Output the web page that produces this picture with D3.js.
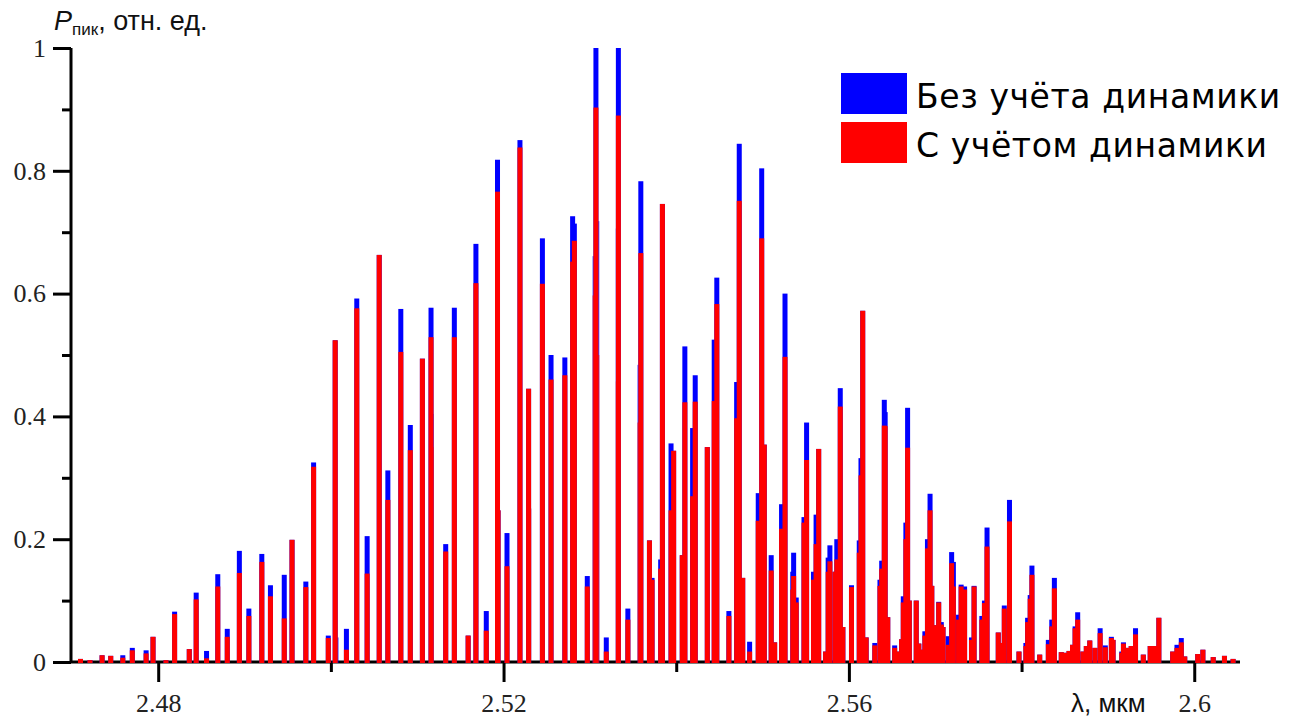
<!DOCTYPE html>
<html>
<head>
<meta charset="utf-8">
<script src="https://cdn.jsdelivr.net/npm/d3@7"></script>
<style>
  html, body { margin: 0; padding: 0; background: #fff; }
  svg { display: block; }
</style>
</head>
<body>
<svg id="chart" width="1296" height="720"></svg>
<script>
// Peak wavelengths, µm
const peakLambda = [
  2.4710, 2.4721, 2.4735, 2.4745, 2.4759, 2.4770, 2.4786, 2.4794, 2.4809, 2.4819,
  2.4836, 2.4844, 2.4856, 2.4869, 2.4880, 2.4894, 2.4905, 2.4920, 2.4930, 2.4946,
  2.4955, 2.4971, 2.4980, 2.4997, 2.5005, 2.5018, 2.5030, 2.5042, 2.5056, 2.5066,
  2.5081, 2.5092, 2.5106, 2.5116, 2.5133, 2.5143, 2.5159, 2.5168, 2.5180, 2.5193,
  2.5204, 2.5219, 2.5229, 2.5245, 2.5255, 2.5271, 2.5280, 2.5282, 2.5297, 2.5307,
  2.5319, 2.5333, 2.5344, 2.5359, 2.5369, 2.5372, 2.5382, 2.5384, 2.5394, 2.5397,
  2.5407, 2.5410, 2.5419, 2.5422, 2.5436, 2.5444, 2.5447, 2.5461, 2.5470, 2.5473,
  2.5477, 2.5485, 2.5495, 2.5499, 2.5502, 2.5510, 2.5514, 2.5522, 2.5526, 2.5535,
  2.5536, 2.5539, 2.5548, 2.5551, 2.5559, 2.5562, 2.5565, 2.5573, 2.5576, 2.5578,
  2.5584, 2.5586, 2.5590, 2.5593, 2.5603, 2.5612, 2.5614, 2.5616, 2.5620, 2.5630,
  2.5636, 2.5638, 2.5641, 2.5642, 2.5645, 2.5653, 2.5656, 2.5661, 2.5663, 2.5666,
  2.5668, 2.5670, 2.5678, 2.5681, 2.5684, 2.5688, 2.5691, 2.5694, 2.5696, 2.5701,
  2.5704, 2.5707, 2.5709, 2.5715, 2.5719, 2.5721, 2.5727, 2.5730, 2.5734, 2.5742,
  2.5745, 2.5754, 2.5757, 2.5760, 2.5773, 2.5777, 2.5780, 2.5786, 2.5797, 2.5805,
  2.5807, 2.5810, 2.5812, 2.5821, 2.5831, 2.5835, 2.5838, 2.5846, 2.5850, 2.5855,
  2.5859, 2.5862, 2.5865, 2.5871, 2.5875, 2.5879, 2.5885, 2.5891, 2.5897, 2.5904,
  2.5906, 2.5916, 2.5918, 2.5923, 2.5927, 2.5932, 2.5941, 2.5949, 2.5954, 2.5959,
  2.5975, 2.5980, 2.5985, 2.5989, 2.6004, 2.6010, 2.6022, 2.6035, 2.6045
];

// Peak power without gain dynamics, rel. units
const peakNoDynamics = [
  0.005, 0.003, 0.011, 0.010, 0.011, 0.023, 0.019, 0.041, 0.003, 0.082,
  0.021, 0.113, 0.018, 0.143, 0.054, 0.181, 0.087, 0.176, 0.125, 0.142,
  0.199, 0.131, 0.325, 0.043, 0.524, 0.054, 0.592, 0.205, 0.663, 0.312,
  0.575, 0.386, 0.494, 0.577, 0.192, 0.577, 0.043, 0.681, 0.083, 0.818,
  0.210, 0.850, 0.445, 0.690, 0.500, 0.496, 0.726, 0.714, 0.140, 1.000,
  0.040, 1.000, 0.087, 0.783, 0.198, 0.137, 0.167, 0.746, 0.356, 0.344,
  0.174, 0.514, 0.381, 0.467, 0.350, 0.525, 0.626, 0.083, 0.456, 0.844,
  0.137, 0.033, 0.275, 0.804, 0.354, 0.174, 0.032, 0.257, 0.600, 0.147,
  0.178, 0.105, 0.236, 0.390, 0.147, 0.240, 0.347, 0.017, 0.170, 0.190,
  0.147, 0.200, 0.446, 0.057, 0.125, 0.198, 0.332, 0.572, 0.040, 0.031,
  0.134, 0.165, 0.427, 0.407, 0.073, 0.027, 0.017, 0.037, 0.107, 0.227,
  0.414, 0.100, 0.100, 0.030, 0.020, 0.050, 0.200, 0.274, 0.124, 0.060,
  0.098, 0.065, 0.057, 0.042, 0.179, 0.163, 0.077, 0.126, 0.123, 0.040,
  0.124, 0.075, 0.100, 0.219, 0.048, 0.031, 0.092, 0.264, 0.017, 0.031,
  0.072, 0.109, 0.157, 0.012, 0.036, 0.069, 0.137, 0.016, 0.015, 0.018,
  0.028, 0.058, 0.081, 0.017, 0.026, 0.035, 0.023, 0.055, 0.027, 0.041,
  0.036, 0.017, 0.032, 0.023, 0.026, 0.055, 0.012, 0.026, 0.026, 0.072,
  0.017, 0.028, 0.039, 0.009, 0.013, 0.020, 0.008, 0.010, 0.005
];

// Peak power with gain dynamics, rel. units
const peakWithDynamics = [
  0.005, 0.003, 0.011, 0.010, 0.007, 0.019, 0.014, 0.041, 0.003, 0.078,
  0.021, 0.102, 0.006, 0.123, 0.041, 0.145, 0.075, 0.163, 0.107, 0.071,
  0.199, 0.122, 0.318, 0.039, 0.524, 0.020, 0.576, 0.144, 0.663, 0.264,
  0.505, 0.345, 0.494, 0.529, 0.180, 0.529, 0.043, 0.617, 0.051, 0.766,
  0.156, 0.838, 0.445, 0.616, 0.460, 0.467, 0.652, 0.686, 0.123, 0.903,
  0.017, 0.890, 0.069, 0.666, 0.198, 0.134, 0.152, 0.746, 0.247, 0.344,
  0.174, 0.423, 0.270, 0.424, 0.350, 0.425, 0.583, 0.075, 0.397, 0.751,
  0.137, 0.017, 0.230, 0.690, 0.354, 0.149, 0.032, 0.217, 0.497, 0.118,
  0.140, 0.097, 0.227, 0.329, 0.134, 0.192, 0.347, 0.017, 0.147, 0.164,
  0.147, 0.167, 0.416, 0.057, 0.122, 0.178, 0.304, 0.572, 0.040, 0.027,
  0.124, 0.152, 0.385, 0.384, 0.073, 0.023, 0.017, 0.037, 0.097, 0.200,
  0.349, 0.100, 0.100, 0.030, 0.020, 0.043, 0.185, 0.247, 0.124, 0.060,
  0.097, 0.061, 0.057, 0.028, 0.161, 0.123, 0.069, 0.123, 0.118, 0.036,
  0.123, 0.069, 0.096, 0.188, 0.048, 0.031, 0.087, 0.229, 0.017, 0.026,
  0.065, 0.103, 0.142, 0.012, 0.029, 0.058, 0.120, 0.016, 0.015, 0.018,
  0.028, 0.055, 0.069, 0.017, 0.026, 0.035, 0.023, 0.047, 0.024, 0.039,
  0.036, 0.015, 0.030, 0.023, 0.026, 0.045, 0.012, 0.026, 0.026, 0.072,
  0.017, 0.023, 0.032, 0.009, 0.013, 0.020, 0.008, 0.010, 0.005
];

// Weak satellite lines next to the main peaks
const satLambda        = [2.5008, 2.5118, 2.5196, 2.5231, 2.5304, 2.5310, 2.5331, 2.5356];
const satNoDynamics    = [0.040, 0.404, 0.247, 0.250, 0.661, 0.718, 0.706, 0.484];
const satWithDynamics  = [0.000, 0.350, 0.247, 0.250, 0.597, 0.500, 0.457, 0.390];

const xMajorTicks = [2.48, 2.52, 2.56, 2.60];
const xMinorTicks = [2.50, 2.54, 2.58];
const yMajorTicks = [0, 0.2, 0.4, 0.6, 0.8, 1];
const yMinorTicks = [0.1, 0.3, 0.5, 0.7, 0.9];

const seriesNames  = ["Без учёта динамики", "С учётом динамики"];
const seriesColors = ["#0000ff", "#ff0000"];

const svg = d3.select("#chart");

const x = d3.scaleLinear().domain([2.4699, 2.6053]).range([71, 1240]);
const y = d3.scaleLinear().domain([0, 1]).range([662, 48]);

const fmt = d => String(+d.toFixed(2));
const tickFont = "'Liberation Serif', 'Times New Roman', serif";

// Axes
const gx = svg.append("g").attr("transform", `translate(0,${y(0)})`);
gx.append("g")
  .call(d3.axisBottom(x).tickValues(xMajorTicks).tickSize(20).tickPadding(12).tickFormat(fmt))
  .call(g => g.select(".domain").attr("stroke-width", 3).attr("d", `M${x.range()[0]},0H${x.range()[1]}`));
gx.append("g")
  .call(d3.axisBottom(x).tickValues(xMinorTicks).tickSize(10).tickFormat(""))
  .call(g => g.select(".domain").remove());

const gy = svg.append("g").attr("transform", `translate(${x.range()[0]},0)`);
gy.append("g")
  .call(d3.axisLeft(y).tickValues(yMajorTicks).tickSize(18).tickPadding(7).tickFormat(fmt))
  .call(g => g.select(".domain").attr("stroke-width", 3).attr("d", `M0,${y(0)}V${y(1)}`));
gy.append("g")
  .call(d3.axisLeft(y).tickValues(yMinorTicks).tickSize(9).tickFormat(""))
  .call(g => g.select(".domain").remove());

svg.selectAll(".tick line").attr("stroke", "#000").attr("stroke-width", 3);
svg.selectAll(".tick text")
  .attr("fill", "#222")
  .style("font-family", tickFont)
  .style("font-size", "26px");

// Spectral lines: wide bars for the main peaks, thin ones for the satellites
const halfWidth = 0.00029;
const satHalfWidth = 0.0001;

function drawLines(layer, lambdas, values, color, half, opacity) {
  layer.selectAll(null)
    .data(lambdas.map((l, i) => ({ l, v: values[i] })).filter(d => d.v > 0))
    .join("rect")
    .attr("x", d => x(d.l - half))
    .attr("width", d => x(d.l + half) - x(d.l - half))
    .attr("y", d => y(d.v))
    .attr("height", d => y(0) + 1 - y(d.v))
    .attr("fill", color)
    .attr("fill-opacity", opacity);
}

const marks = svg.append("g");
drawLines(marks, peakLambda, peakNoDynamics, seriesColors[0], halfWidth, 1);
drawLines(marks, satLambda, satNoDynamics, seriesColors[0], satHalfWidth, 0.6);
drawLines(marks, peakLambda, peakWithDynamics, seriesColors[1], halfWidth, 1);
drawLines(marks, satLambda, satWithDynamics, seriesColors[1], satHalfWidth, 0.6);

// Axis titles
const sans = "'Liberation Sans', Arial, sans-serif";
const yTitle = svg.append("text")
  .attr("x", 54).attr("y", 30)
  .style("font-family", sans).style("font-size", "27px").attr("fill", "#111");
yTitle.append("tspan").text("P").style("font-style", "italic");
yTitle.append("tspan").text("пик").style("font-size", "17px").attr("dy", 5);
yTitle.append("tspan").text(", отн. ед.").attr("dy", -5);

svg.append("text")
  .attr("x", 1071).attr("y", 712)
  .style("font-family", sans).style("font-size", "26px").attr("fill", "#111")
  .text("λ, мкм");

// Legend
const legend = svg.append("g").attr("transform", "translate(841,73)");
seriesNames.forEach((name, i) => {
  const row = legend.append("g").attr("transform", `translate(0,${i * 49})`);
  row.append("rect").attr("width", 66).attr("height", 41).attr("fill", seriesColors[i]);
  row.append("text")
    .attr("x", 75).attr("y", 35)
    .style("font-family", "'DejaVu Sans', 'Open Sans', sans-serif")
    .style("font-size", "33px")
    .style("letter-spacing", "0.6px")
    .attr("fill", "#000")
    .text(name);
});
</script>
</body>
</html>
